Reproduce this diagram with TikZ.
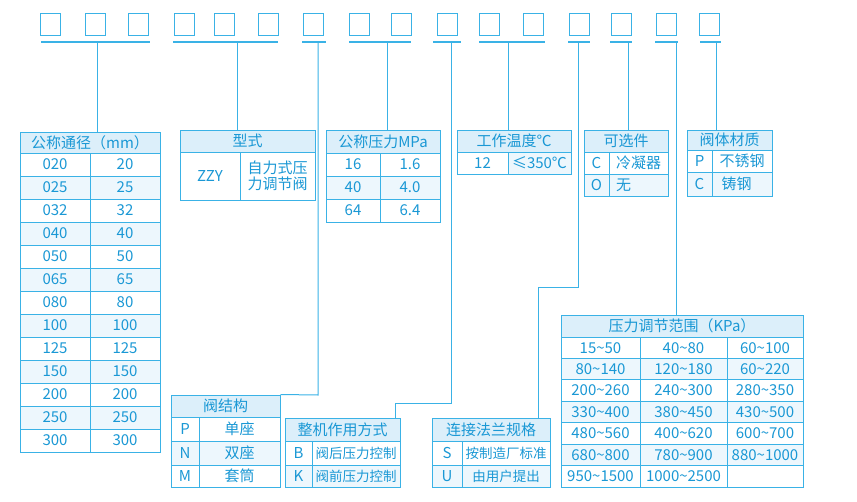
\documentclass[tikz,border=0pt]{standalone}
\usepackage{fontspec}
\setmainfont{Noto Sans CJK SC}
\definecolor{ln}{HTML}{3AB2E6}
\definecolor{tx}{HTML}{1A98D5}
\definecolor{hd}{HTML}{DCEFFA}
\definecolor{st}{HTML}{EDF7FD}
\tikzset{
  cellbox/.style={draw=ln,line width=1pt,inner sep=0pt,text=tx,font=\fontsize{15}{16}\selectfont,align=center},
  sq/.style={draw=ln,line width=1pt,minimum width=20pt,minimum height=22pt,inner sep=0pt},
  wire/.style={ln,line width=1pt},
  uline/.style={ln,line width=1.2pt}
}
\newcommand\smt{\fontsize{13.5}{14}\selectfont}
% name, x1, y1, x2, y2, fill, text
\newcommand\cellb[7]{\node[cellbox,fill=#6,minimum width={#4pt-#2pt},minimum height={#5pt-#3pt}] (#1) at ({(#2+#4)/2},{(#3+#5)/2}) {#7};}
\begin{document}
\begin{tikzpicture}[x=1pt,y=-1pt]
\useasboundingbox (0,0) rectangle (857,501);
% top squares
\foreach \i/\xx in {1/39,2/84,3/127,4/173,5/213,6/257,7/302,8/348,9/390,10/436,11/478,12/522,13/568,14/610,15/655,16/698}
  \node[sq] (sq\i) at (\xx+11,24) {};
% underlines
\foreach \a/\b in {41/150,173/278,302/326,349/411,433/461,479/545,568/590,610/632,655/678,700/721}
  \draw[uline] (\a,42) -- (\b,42);
\foreach \n/\xx in {g1/97,g2/237,g3/318,g4/387,g5/451,g6/508,g7/578,g8/628,g9/676,g10/716}
  \coordinate (\n) at (\xx,42);
% table 1
\cellb{t1h}{20}{132}{160}{153}{hd}{公称通径（mm）}
\foreach [count=\i from 0] \a/\b in {020/20,025/25,032/32,040/40,050/50,065/65,080/80,100/100,125/125,150/150,200/200,250/250,300/300}{
  \pgfmathsetmacro\ya{153+23*\i}\pgfmathsetmacro\yb{176+23*\i}
  \pgfmathsetmacro\fl{mod(\i,2)==1?1:0}
  \ifdim\fl pt>0pt \def\fc{st}\else\def\fc{white}\fi
  \cellb{t1a\i}{20}{\ya}{90}{\yb}{\fc}{\a}
  \cellb{t1b\i}{90}{\ya}{160}{\yb}{\fc}{\b}
}
% table 2
\cellb{t2h}{180}{130}{315}{152}{hd}{型式}
\cellb{t2a}{180}{152}{240}{200}{white}{ZZY}
\cellb{t2b}{240}{152}{315}{200}{white}{自力式压\\力调节阀}
% table 3
\cellb{t3h}{326}{130}{440}{153}{hd}{公称压力MPa}
\cellb{t3a0}{326}{153}{380}{176}{white}{16}\cellb{t3b0}{380}{153}{440}{176}{white}{1.6}
\cellb{t3a1}{326}{176}{380}{199}{st}{40}\cellb{t3b1}{380}{176}{440}{199}{st}{4.0}
\cellb{t3a2}{326}{199}{380}{222}{white}{64}\cellb{t3b2}{380}{199}{440}{222}{white}{6.4}
% table 4
\cellb{t4h}{457}{130}{571}{152}{hd}{工作温度℃}
\cellb{t4a}{457}{152}{508}{174}{white}{12}\cellb{t4b}{508}{152}{571}{174}{st}{≤350℃}
% table 5
\cellb{t5h}{584}{130}{668}{152}{hd}{可选件}
\cellb{t5a0}{584}{152}{609}{174}{white}{C}\cellb{t5b0}{609}{152}{668}{174}{white}{冷凝器}
\cellb{t5a1}{584}{174}{609}{196}{st}{O}\cellb{t5b1}{609}{174}{668}{196}{st}{\makebox[50pt][l]{\,无}}
% table 6
\cellb{t6h}{687}{130}{772}{150}{hd}{阀体材质}
\cellb{t6a0}{687}{150}{712}{172}{white}{P}\cellb{t6b0}{712}{150}{772}{172}{white}{不锈钢}
\cellb{t6a1}{687}{172}{712}{196}{st}{C}\cellb{t6b1}{712}{172}{772}{196}{st}{\makebox[46pt][l]{\,铸钢}}
% table 7
\cellb{t7h}{561}{315}{803}{337}{hd}{压力调节范围（KPa）}
\foreach [count=\i from 0] \a/\b/\c in {15\string~50/40\string~80/60\string~100,80\string~140/120\string~180/60\string~220,200\string~260/240\string~300/280\string~350,330\string~400/380\string~450/430\string~500,480\string~560/400\string~620/600\string~700,680\string~800/780\string~900/880\string~1000,950\string~1500/1000\string~2500/{}}{
  \pgfmathsetmacro\ya{337+21.43*\i}\pgfmathsetmacro\yb{358.43+21.43*\i}
  \pgfmathsetmacro\fl{mod(\i,2)==1?1:0}
  \ifdim\fl pt>0pt \def\fc{st}\else\def\fc{white}\fi
  \cellb{t7a\i}{561}{\ya}{640}{\yb}{\fc}{\a}
  \cellb{t7b\i}{640}{\ya}{727}{\yb}{\fc}{\b}
  \cellb{t7c\i}{727}{\ya}{803}{\yb}{\fc}{\c}
}
% table 8
\cellb{t8h}{171}{395}{280}{417}{hd}{阀结构}
\cellb{t8a0}{171}{417}{199}{441}{white}{P}\cellb{t8b0}{199}{417}{280}{441}{white}{单座}
\cellb{t8a1}{171}{441}{199}{465}{st}{N}\cellb{t8b1}{199}{441}{280}{465}{st}{双座}
\cellb{t8a2}{171}{465}{199}{487}{white}{M}\cellb{t8b2}{199}{465}{280}{487}{white}{套筒}
% table 9
\cellb{t9h}{285}{418}{400}{441}{hd}{整机作用方式}
\cellb{t9a0}{285}{441}{312}{465}{white}{B}\cellb{t9b0}{312}{441}{400}{465}{white}{\smt 阀后压力控制}
\cellb{t9a1}{285}{465}{312}{487}{st}{K}\cellb{t9b1}{312}{465}{400}{487}{st}{\smt 阀前压力控制}
% table 10
\cellb{t10h}{432}{418}{550}{441}{hd}{连接法兰规格}
\cellb{t10a0}{432}{441}{462}{465}{white}{S}\cellb{t10b0}{462}{441}{550}{465}{white}{\smt 按制造厂标准}
\cellb{t10a1}{432}{465}{462}{487}{st}{U}\cellb{t10b1}{462}{465}{550}{487}{st}{\smt 由用户提出}
% connectors
\draw[wire] (g1) -- (g1 |- t1h.north);
\draw[wire] (g2) -- (g2 |- t2h.north);
\draw[wire] (g3) -- (318,395) -- (t8h.north east);
\draw[wire] (g4) -- (g4 |- t3h.north);
\draw[wire] (g5) -- (451,403) -- (395,403) -- (395,418);
\draw[wire] (g6) -- (g6 |- t4h.north);
\draw[wire] (g7) -- (578,287) -- (538,287) -- (538,418);
\draw[wire] (g8) -- (g8 |- t5h.north);
\draw[wire] (g9) -- (g9 |- t7h.north);
\draw[wire] (g10) -- (g10 |- t6h.north);
\end{tikzpicture}
\end{document}
